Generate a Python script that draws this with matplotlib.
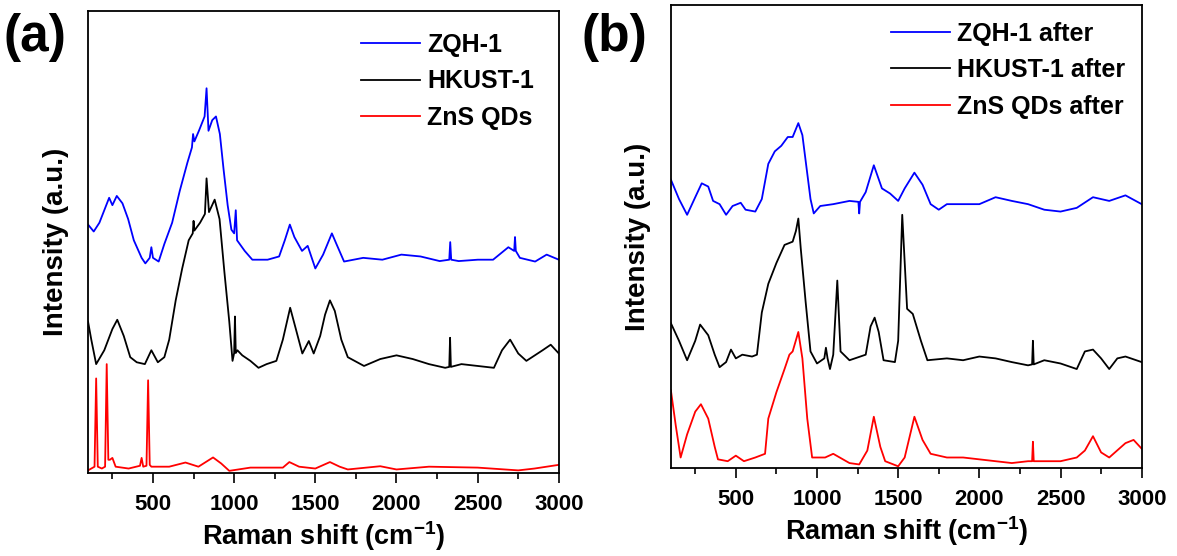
import numpy as np
import matplotlib
matplotlib.use('Agg')
import matplotlib.pyplot as plt
from matplotlib.ticker import MultipleLocator

plt.rcParams['font.family'] = 'Liberation Sans'
plt.rcParams['font.weight'] = 'bold'
plt.rcParams['mathtext.fontset'] = 'custom'
plt.rcParams['mathtext.bf'] = 'Liberation Sans:bold'
plt.rcParams['mathtext.rm'] = 'Liberation Sans:bold'
plt.rcParams['mathtext.default'] = 'bf'

# panel (a) - Raman spectra before use
a_blue_x = [100, 135, 170, 230, 250, 277, 312, 347, 382, 430, 453, 480, 490, 500, 535, 570, 618,
            665, 712, 740, 747, 755, 783, 818, 830, 842, 865, 888, 912, 935, 960, 983, 1000,
            1010, 1018, 1065, 1112, 1206, 1277, 1312, 1343, 1371, 1418, 1453, 1500, 1548, 1602,
            1630, 1677, 1795, 1913, 2030, 2148, 2266, 2325, 2331, 2337, 2383, 2501, 2595, 2689,
            2725, 2730, 2735, 2760, 2854, 2925, 3000]
a_blue_y = [53.8, 52.3, 54.2, 59.6, 58.0, 60.0, 58.4, 55.0, 50.4, 46.6, 45.4, 46.6, 48.9, 46.6,
            45.8, 49.6, 54.2, 61.1, 67.2, 70.5, 73.4, 71.8, 74.1, 77.2, 83.3, 74.1, 76.4, 77.2,
            73.4, 65.7, 58.0, 52.7, 51.9, 56.9, 50.4, 48.1, 46.2, 46.2, 46.9, 50.4, 53.8, 51.1,
            48.1, 49.2, 44.3, 47.3, 51.9, 49.6, 45.8, 46.6, 46.2, 47.3, 46.9, 45.9, 46.2, 50.0,
            46.2, 45.9, 46.2, 46.2, 48.9, 48.1, 51.1, 48.1, 46.6, 45.8, 47.3, 46.2]

a_black_x = [100, 120, 150, 200, 250, 280, 320, 360, 400, 450, 490, 530, 570, 600, 640, 680,
             720, 745, 750, 755, 790, 820, 830, 845, 880, 910, 940, 970, 990, 1000, 1005, 1010,
             1020, 1050, 1100, 1150, 1200, 1260, 1300, 1345, 1380, 1420, 1460, 1490, 1530, 1560,
             1590, 1620, 1660, 1700, 1800, 1900, 2000, 2100, 2200, 2300, 2325, 2330, 2335, 2400,
             2500, 2600, 2650, 2700, 2750, 2800, 2900, 2950, 3000]
a_black_y = [32.8, 28.9, 23.6, 26.6, 31.2, 33.2, 29.7, 25.1, 24.0, 23.6, 26.6, 24.0, 25.1, 28.9,
             37.4, 44.3, 50.4, 51.9, 54.6, 52.5, 54.2, 56.1, 63.8, 56.5, 59.2, 55.0, 43.5, 32.8,
             24.3, 26.0, 33.9, 26.0, 26.6, 25.5, 24.3, 22.8, 23.6, 24.3, 28.9, 35.8, 31.2, 25.9,
             28.6, 25.9, 29.7, 34.3, 37.4, 35.1, 28.9, 25.1, 23.2, 24.7, 25.5, 24.7, 23.6, 22.8,
             23.0, 29.3, 23.0, 23.6, 23.2, 22.8, 26.6, 28.9, 25.9, 24.3, 26.6, 27.8, 25.9]

a_red_x = [100, 140, 150, 160, 185, 205, 215, 225, 235, 250, 270, 350, 420, 430, 440, 460, 470,
           480, 490, 600, 700, 780, 870, 920, 970, 1100, 1300, 1340, 1400, 1500, 1590, 1650,
           1700, 1900, 2000, 2200, 2500, 2750, 2850, 3000]
a_red_y = [0.6, 1.4, 20.5, 1.4, 1.0, 1.4, 23.6, 2.9, 2.9, 3.3, 1.4, 1.0, 1.6, 3.3, 1.4, 1.6,
           20.1, 1.8, 1.4, 1.4, 2.3, 1.4, 3.4, 2.1, 0.5, 1.2, 1.2, 2.4, 1.4, 1.0, 2.4, 1.4, 0.8,
           1.5, 0.8, 1.4, 1.2, 0.6, 1.0, 1.8]

# panel (b) - Raman spectra after use
b_blue_x = [100, 150, 200, 250, 290, 330, 360, 400, 440, 480, 530, 560, 620, 660, 700, 740,
            780, 820, 850, 885, 910, 935, 960, 980, 1020, 1100, 1200, 1255, 1260, 1265, 1300,
            1350, 1400, 1450, 1500, 1540, 1600, 1650, 1700, 1750, 1800, 1900, 2000, 2100, 2200,
            2300, 2400, 2500, 2600, 2700, 2800, 2900, 3000]
b_blue_y = [62.3, 58.1, 54.7, 58.5, 61.5, 60.8, 57.7, 57.0, 54.7, 56.6, 57.3, 55.8, 55.4, 58.1,
            65.7, 68.4, 69.6, 71.5, 71.5, 74.5, 71.9, 65.0, 58.1, 55.0, 56.6, 57.0, 57.7, 57.5,
            55.0, 57.5, 59.6, 65.4, 60.4, 59.3, 57.7, 60.4, 63.8, 61.2, 57.0, 55.8, 57.0, 57.0,
            57.0, 58.5, 57.7, 57.0, 55.8, 55.4, 56.2, 58.5, 57.7, 58.9, 57.0]

b_black_x = [100, 150, 200, 250, 280, 330, 370, 400, 440, 470, 500, 540, 600, 630, 660, 700,
             750, 800, 850, 870, 885, 900, 930, 960, 1000, 1045, 1055, 1065, 1080, 1100, 1125,
             1145, 1200, 1300, 1330, 1355, 1380, 1410, 1480, 1500, 1525, 1555, 1590, 1640, 1680,
             1800, 1900, 2000, 2100, 2200, 2300, 2325, 2330, 2335, 2400, 2500, 2600, 2650, 2700,
             2750, 2800, 2850, 2900, 3000]
b_black_y = [31.3, 27.5, 23.3, 27.5, 31.0, 28.7, 24.5, 21.8, 22.9, 25.6, 23.7, 24.5, 24.1, 24.5,
             33.6, 39.8, 44.3, 48.2, 48.9, 51.2, 53.9, 47.4, 35.9, 25.2, 22.6, 23.7, 26.0, 23.7,
             21.4, 24.5, 40.5, 25.2, 23.3, 24.5, 30.6, 32.5, 29.4, 23.3, 22.9, 27.5, 54.7, 34.4,
             33.3, 27.5, 23.3, 23.7, 23.3, 24.1, 23.7, 22.9, 22.2, 22.4, 27.5, 22.4, 23.3, 22.6,
             21.4, 25.2, 25.6, 23.7, 21.4, 23.7, 24.1, 22.9]

b_red_x = [100, 130, 160, 200, 250, 285, 330, 370, 390, 450, 500, 550, 620, 680, 700, 750,
           800, 830, 850, 885, 910, 940, 970, 1050, 1100, 1200, 1260, 1310, 1350, 1390, 1420,
           1500, 1540, 1600, 1650, 1700, 1800, 1900, 2000, 2100, 2200, 2300, 2325, 2330, 2335,
           2400, 2500, 2600, 2650, 2700, 2750, 2800, 2900, 2950, 3000]
b_red_y = [16.8, 9.2, 2.3, 7.3, 12.2, 13.8, 10.7, 4.6, 1.9, 1.5, 2.7, 1.5, 2.3, 3.1, 10.7, 16.4,
           21.4, 24.5, 25.2, 29.4, 23.7, 10.7, 2.3, 2.3, 3.1, 1.1, 0.8, 3.8, 11.1, 4.6, 1.5, 0.4,
           2.3, 11.1, 6.1, 3.1, 2.3, 2.3, 1.9, 1.5, 1.1, 1.5, 1.5, 5.7, 1.5, 1.5, 1.5, 2.3, 3.8,
           6.9, 3.4, 2.3, 5.4, 6.1, 4.2]

a_labels = ['ZQH-1', 'HKUST-1', 'ZnS QDs']
b_labels = ['ZQH-1 after', 'HKUST-1 after', 'ZnS QDs after']
colors = ['#0000ff', '#000000', '#ff0000']

fig = plt.figure(figsize=(11.77, 5.56), dpi=100)
ax1 = fig.add_axes([0.0748, 0.149, 0.400, 0.831])
ax2 = fig.add_axes([0.570, 0.158, 0.400, 0.833])

panels = [
    (ax1, [(a_blue_x, a_blue_y), (a_black_x, a_black_y), (a_red_x, a_red_y)], a_labels, 0.58, 0.953),
    (ax2, [(b_blue_x, b_blue_y), (b_black_x, b_black_y), (b_red_x, b_red_y)], b_labels, 0.467, 0.964),
]

for ax, series, labels, lx, ly in panels:
    for (x, y), c, lab in zip(series, colors, labels):
        ax.plot(x, y, color=c, lw=1.3, label=lab)
    ax.set_xlim(100, 3000)
    ax.set_ylim(0, 100)
    ax.set_yticks([])
    ax.xaxis.set_major_locator(MultipleLocator(500))
    ax.xaxis.set_minor_locator(MultipleLocator(250))
    ax.set_xticks([500, 1000, 1500, 2000, 2500, 3000])
    ax.tick_params(axis='x', which='major', direction='out', length=7, width=1.2,
                   labelsize=16, pad=8)
    ax.tick_params(axis='x', which='minor', direction='out', length=4, width=1.2)
    for s in ax.spines.values():
        s.set_linewidth(1.3)
    ax.set_xlabel(r'Raman shift (cm$^{-1}$)', fontsize=19.5, fontweight='bold', labelpad=3)
    ax.set_ylabel('Intensity (a.u.)', fontsize=20, fontweight='bold', labelpad=14)
    ax.legend(loc='upper left', bbox_to_anchor=(lx, ly), frameon=False,
              borderaxespad=0, borderpad=0, handlelength=2.36, handletextpad=0.28,
              labelspacing=0.5, prop={'weight': 'bold', 'size': 18})

fig.text(0.003, 0.932, '(a)', fontsize=37, fontweight='bold', va='center')
fig.text(0.494, 0.932, '(b)', fontsize=37, fontweight='bold', va='center')

fig.savefig('out.png', dpi=100)
